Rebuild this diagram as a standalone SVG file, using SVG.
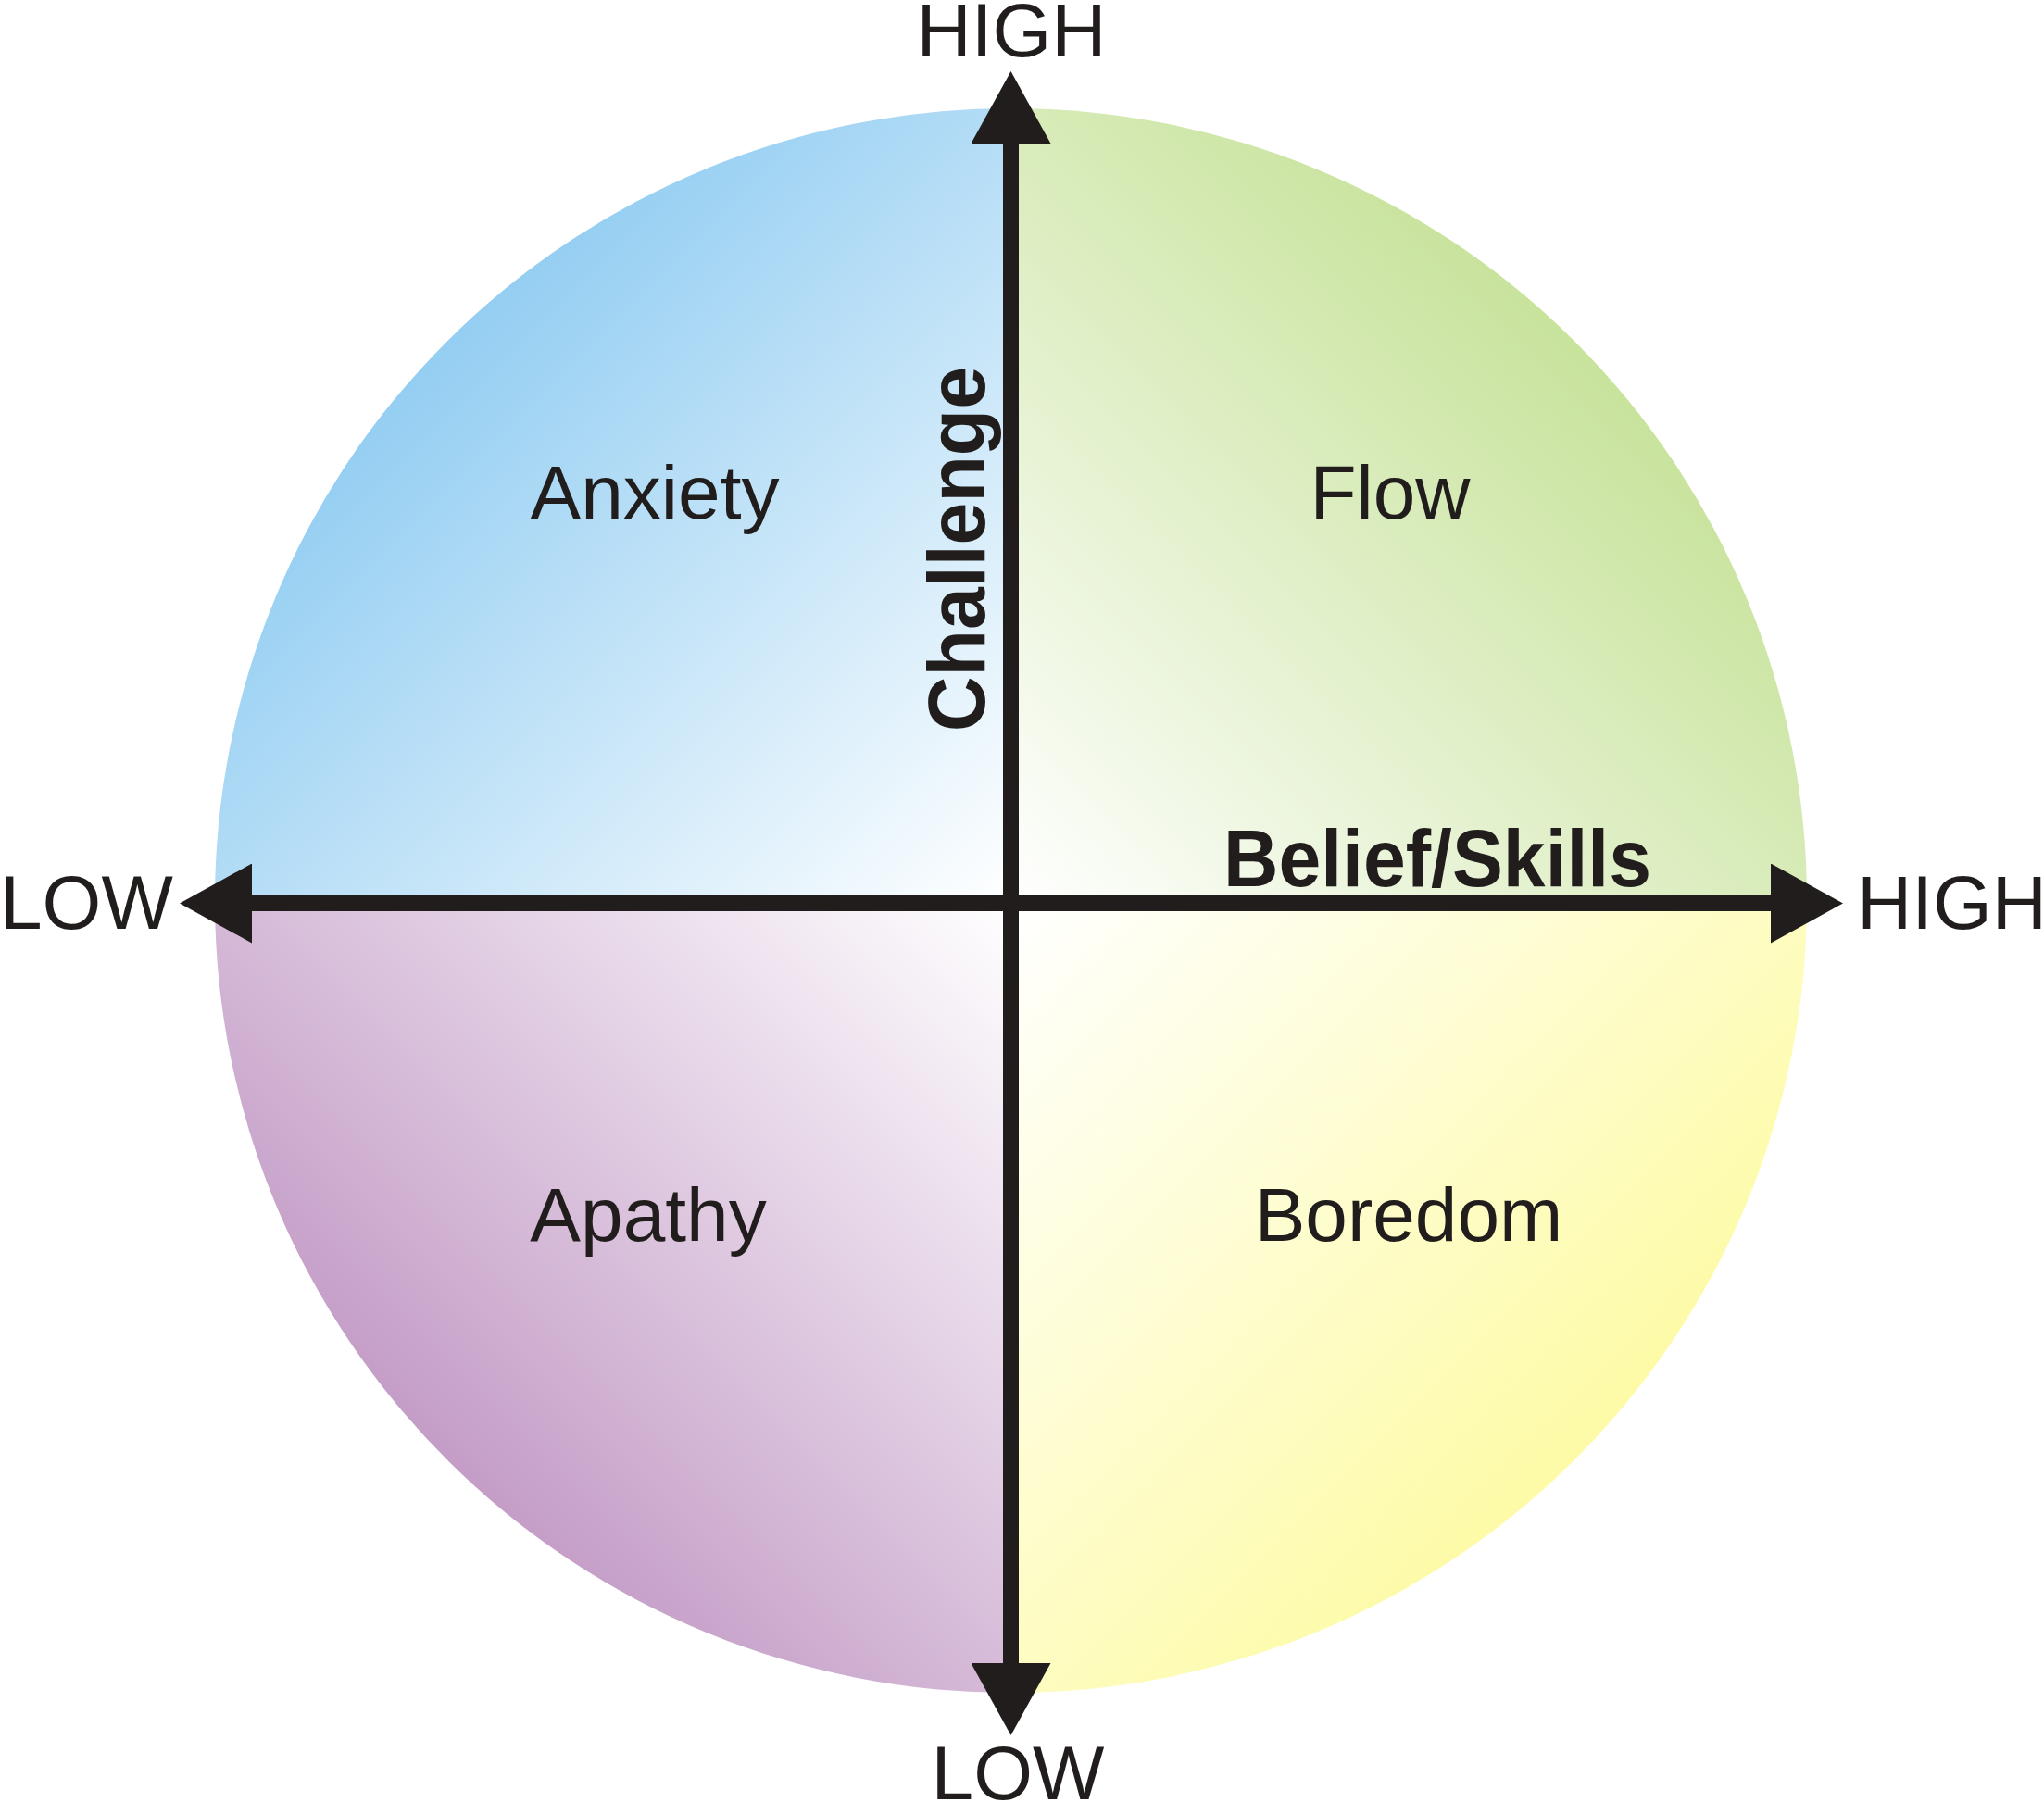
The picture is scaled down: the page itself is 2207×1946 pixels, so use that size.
<svg xmlns="http://www.w3.org/2000/svg" width="2207" height="1946" viewBox="0 0 2207 1946">
<style>
.lbl{font-family:"Liberation Sans",Arial,sans-serif;font-size:82px;fill:#211d1c;text-anchor:middle}
.axis{font-family:"Liberation Sans",Arial,sans-serif;font-size:87px;font-weight:bold;fill:#211d1c;text-anchor:middle}
.ax{stroke:#211d1c;stroke-width:17;fill:none;marker-start:url(#ah);marker-end:url(#ah)}
</style>
<defs>
<linearGradient id="gTL" gradientUnits="userSpaceOnUse" x1="1091" y1="975" x2="484" y2="368">
<stop offset="0" stop-color="#ffffff"/><stop offset="1" stop-color="#94cef2"/>
</linearGradient>
<linearGradient id="gTR" gradientUnits="userSpaceOnUse" x1="1091" y1="975" x2="1698" y2="368">
<stop offset="0" stop-color="#ffffff"/><stop offset="1" stop-color="#c8e39c"/>
</linearGradient>
<linearGradient id="gBL" gradientUnits="userSpaceOnUse" x1="1091" y1="975" x2="484" y2="1582">
<stop offset="0" stop-color="#ffffff"/><stop offset="1" stop-color="#c49dc7"/>
</linearGradient>
<linearGradient id="gBR" gradientUnits="userSpaceOnUse" x1="1091" y1="975" x2="1698" y2="1582">
<stop offset="0" stop-color="#ffffff"/><stop offset="1" stop-color="#fdfba6"/>
</linearGradient>
<marker id="ah" viewBox="0 0 78 86" refX="0" refY="43" markerUnits="userSpaceOnUse" markerWidth="78" markerHeight="86" orient="auto-start-reverse">
<path d="M0,0 L78,43 L0,86 Z" fill="#211d1c"/>
</marker>
</defs>
<rect width="2207" height="1946" fill="#ffffff"/>
<g id="quadrants">
<path id="q-anxiety" d="M1091.5,975.5 L232,975.5 A859.5 855.5 0 0 1 1091.5,117 Z" fill="url(#gTL)"/>
<path id="q-flow" d="M1091.5,975.5 L1091.5,117 A859.5 855.5 0 0 1 1951,975.5 Z" fill="url(#gTR)"/>
<path id="q-boredom" d="M1091.5,975.5 L1951,975.5 A859.5 855.5 0 0 1 1091.5,1828 Z" fill="url(#gBR)"/>
<path id="q-apathy" d="M1091.5,975.5 L1091.5,1828 A859.5 855.5 0 0 1 232,975.5 Z" fill="url(#gBL)"/>
</g>
<g id="connectors">
<line class="ax" x1="1091.5" y1="155" x2="1091.5" y2="1796"/>
<line class="ax" x1="272" y1="975.5" x2="1912" y2="975.5"/>
</g>
<g id="node-anxiety"><text class="lbl" x="707" y="560">Anxiety</text></g>
<g id="node-flow"><text class="lbl" x="1501" y="560">Flow</text></g>
<g id="node-apathy"><text class="lbl" x="700" y="1340">Apathy</text></g>
<g id="node-boredom"><text class="lbl" x="1521" y="1340">Boredom</text></g>
<g id="axis-labels">
<text class="axis" x="1552" y="957" textLength="462" lengthAdjust="spacingAndGlyphs">Belief/Skills</text>
<text class="axis" transform="translate(1063,593) rotate(-90)" x="0" y="0" textLength="394" lengthAdjust="spacingAndGlyphs">Challenge</text>
<text class="lbl" x="1092" y="61">HIGH</text>
<text class="lbl" x="1099" y="1943">LOW</text>
<text class="lbl" x="0" y="1003" style="text-anchor:start">LOW</text>
<text class="lbl" x="2005" y="1003" style="text-anchor:start">HIGH</text>
</g>
</svg>
